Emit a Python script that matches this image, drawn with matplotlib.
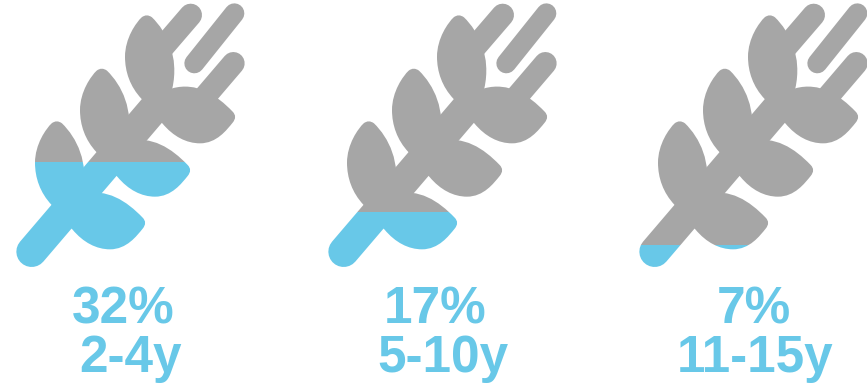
import matplotlib
matplotlib.use("Agg")
import matplotlib.pyplot as plt
from matplotlib.path import Path
from matplotlib.patches import PathPatch, Rectangle

age_groups = ["2-4y", "5-10y", "11-15y"]
percentages = [32, 17, 7]
value_labels = ["32%", "17%", "7%"]

GREY = "#A6A6A6"
BLUE = "#68C8E8"
W, H = 867, 391
OFFSETS = [0, 312, 623]
PCT_X = [123.5, 435.5, 753.5]
AGE_X = [131, 443, 755]
GLYPH_TOP, GLYPH_BOTTOM = 3, 268
FILL_SCALE = 1.25  # glyph fill height is proportional to value

M, L, C, Q, Z = Path.MOVETO, Path.LINETO, Path.CURVE4, Path.CURVE3, Path.CLOSEPOLY

# glyph outlines in 3x-zoom units
LEFT_LEAF = [(M, (425, 297)), (C, (390, 260)), (C, (375, 215)), (C, (375, 170)),
             (C, (375, 115)), (C, (408, 68)), (C, (425, 52)),
             (Q, (440, 40)), (Q, (456, 52)),
             (C, (500, 95)), (C, (538, 170)), (C, (517, 265)),
             (L, (487, 370)), (Z, (425, 297))]
RIGHT_LEAF = [(M, (487, 370)), (C, (520, 410)), (C, (560, 430)), (C, (600, 430)),
              (C, (650, 430)), (C, (680, 390)), (C, (698, 368)),
              (Q, (713, 350)), (Q, (698, 335)),
              (C, (650, 285)), (C, (590, 245)), (C, (517, 265)),
              (L, (450, 320)), (Z, (487, 370))]
LEAF_SHIFTS = [(0, 0), (-135, 160), (-270, 318)]
STROKES = [((95, 755), (470, 316), 92), ((572, 45), (480, 152), 68),
           ((700, 190), (600, 307), 68), ((583, 190), (703, 40), 60)]


def leaf_path(outline, dx, dy, ox):
    verts = [((x + dx) / 3 + ox, (y + dy) / 3) for _, (x, y) in outline]
    return Path(verts, [c for c, _ in outline])


def draw_glyph(ax, ox, color, clip):
    for outline in (LEFT_LEAF, RIGHT_LEAF):
        for dx, dy in LEAF_SHIFTS:
            p = PathPatch(leaf_path(outline, dx, dy, ox), fc=color, ec="none", zorder=2)
            ax.add_patch(p)
            p.set_clip_path(clip)
    for (a, b, w) in STROKES:
        ln, = ax.plot([a[0] / 3 + ox, b[0] / 3 + ox], [a[1] / 3, b[1] / 3], color=color,
                      lw=w / 3 * 0.72, solid_capstyle="round", zorder=2)
        ln.set_clip_path(clip)


fig = plt.figure(figsize=(W / 100, H / 100), dpi=100, facecolor="white")
ax = fig.add_axes([0, 0, 1, 1])
ax.set_xlim(0, W)
ax.set_ylim(H, 0)
ax.axis("off")

for i, pct in enumerate(percentages):
    ox = OFFSETS[i]
    level = GLYPH_BOTTOM - (GLYPH_BOTTOM - GLYPH_TOP) * pct * FILL_SCALE / 100
    top = Rectangle((ox, 0), 260, level, transform=ax.transData)
    bottom = Rectangle((ox, level), 260, 290 - level, transform=ax.transData)
    draw_glyph(ax, ox, GREY, top)
    draw_glyph(ax, ox, BLUE, bottom)
    ax.text(PCT_X[i], 323, value_labels[i], color=BLUE, fontsize=37, fontweight="bold",
            family="Liberation Sans", ha="center", va="baseline")
    ax.text(AGE_X[i], 372, age_groups[i], color=BLUE, fontsize=37, fontweight="bold",
            family="Liberation Sans", ha="center", va="baseline")

fig.savefig("out.png", dpi=100, facecolor="white")
